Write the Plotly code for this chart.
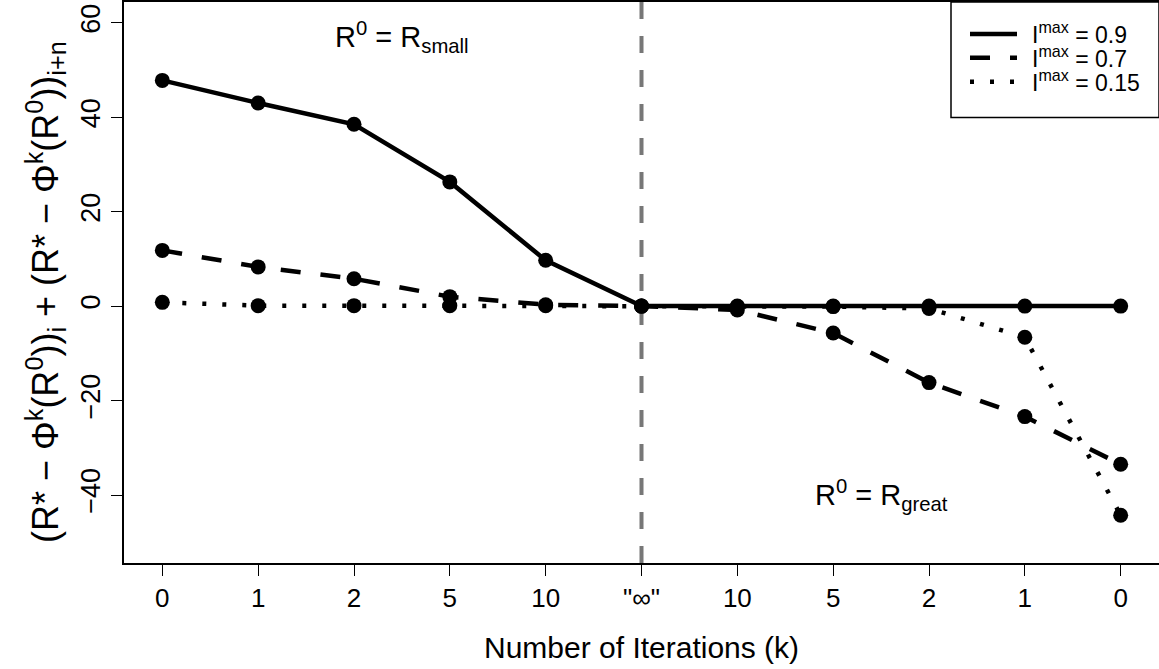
import plotly.graph_objects as go

# ---- data ----
x_pos = list(range(1, 12))
x_labels = ['0', '1', '2', '5', '10', '"∞"', '10', '5', '2', '1', '0']
imax_09 = [47.8, 43.0, 38.5, 26.3, 9.7, 0.0, 0.0, 0.0, 0.0, 0.0, 0.0]
imax_07 = [11.8, 8.3, 5.8, 2.0, 0.3, 0.0, -0.8, -5.7, -16.2, -23.4, -33.5]
imax_015 = [0.8, 0.1, 0.1, 0.1, 0.1, 0.0, -0.1, -0.1, -0.5, -6.6, -44.3]
series_names = ['I<sup>max</sup> = 0.9', 'I<sup>max</sup> = 0.7', 'I<sup>max</sup> = 0.15']
y_ticks = [-40, -20, 0, 20, 40, 60]

FONT = 'Liberation Sans, Arial, sans-serif'
W, H = 1159, 669
ML, MR, MT, MB = 124, 0, 0, 106
PW, PH = W - ML - MR, H - MT - MB


def px(xpix):
    return (xpix - ML) / PW


def py(ypix):
    return (PH - (ypix - MT)) / PH


fig = go.Figure()

dashes = ['solid', '20px,20px', '4px,16px']
series = [imax_09, imax_07, imax_015]

for i in [2, 1, 0]:
    fig.add_trace(go.Scatter(x=x_pos, y=series[i], mode='lines+markers', name=series_names[i],
                             line=dict(color='black', width=4.5, dash=dashes[i]),
                             marker=dict(color='black', size=15), showlegend=False))

# vertical dashed gray line at "infinity"
fig.add_shape(type='line', xref='x', yref='y domain', x0=6, x1=6, y0=0, y1=1,
              line=dict(color='#777777', width=4, dash='17px,17px'), layer='below')

fig.add_annotation(x=3.5, y=57, xref='x', yref='y', showarrow=False,
                   text='R<sup>0</sup> = R<sub>small</sub>',
                   font=dict(family=FONT, size=29, color='black'))
fig.add_annotation(x=8.5, y=-40, xref='x', yref='y', showarrow=False,
                   text='R<sup>0</sup> = R<sub>great</sub>',
                   font=dict(family=FONT, size=29, color='black'))

# legend box (drawn manually to match layout)
fig.add_shape(type='rect', xref='paper', yref='paper', x0=px(951), x1=1.0, y0=py(116), y1=py(0),
              line=dict(color='black', width=1.5), fillcolor='white', layer='above')
rows = [32, 56, 80]
for i, ry in enumerate(rows):
    fig.add_shape(type='line', xref='paper', yref='paper', x0=px(970), x1=px(1017),
                  y0=py(ry), y1=py(ry), line=dict(color='black', width=4.5, dash=dashes[i]),
                  layer='above')
    fig.add_annotation(x=px(1030), y=py(ry - 1), xref='paper', yref='paper', showarrow=False,
                       xanchor='left', yanchor='middle', text=series_names[i],
                       font=dict(family=FONT, size=23, color='black'))

# axis titles
fig.add_annotation(x=0.5, y=py(648), xref='paper', yref='paper',
                   showarrow=False, text='Number of Iterations (k)',
                   font=dict(family=FONT, size=30, color='black'), yanchor='middle')
fig.add_annotation(x=px(46), y=py(291), xref='paper', yref='paper',
                   showarrow=False, textangle=-90,
                   text='(R* − Φ<sup>k</sup>(R<sup>0</sup>))<sub>i</sub> + (R* − Φ<sup>k</sup>(R<sup>0</sup>))<sub>i+n</sub>',
                   font=dict(family=FONT, size=36, color='black'), xanchor='center')

fig.update_layout(
    width=W, height=H,
    margin=dict(l=ML, r=MR, t=MT, b=MB, pad=0),
    paper_bgcolor='white', plot_bgcolor='white',
    font=dict(family=FONT, size=26, color='black'),
    showlegend=False,
    xaxis=dict(range=[0.6, 11.4], tickvals=x_pos, ticktext=x_labels,
               showgrid=False, zeroline=False, showline=True, mirror=True,
               linecolor='black', linewidth=1.5, ticks='outside', ticklen=11,
               tickwidth=1.2, tickcolor='black', tickfont=dict(family=FONT, size=26)),
    yaxis=dict(range=[-54.4, 64.4], tickvals=y_ticks,
               showgrid=False, zeroline=False, showline=True, mirror=False,
               linecolor='black', linewidth=1.5, ticks='outside', ticklen=11,
               tickwidth=1.2, tickcolor='black', tickangle=-90,
               tickfont=dict(family=FONT, size=27)),
)

fig.write_html('out.html')
